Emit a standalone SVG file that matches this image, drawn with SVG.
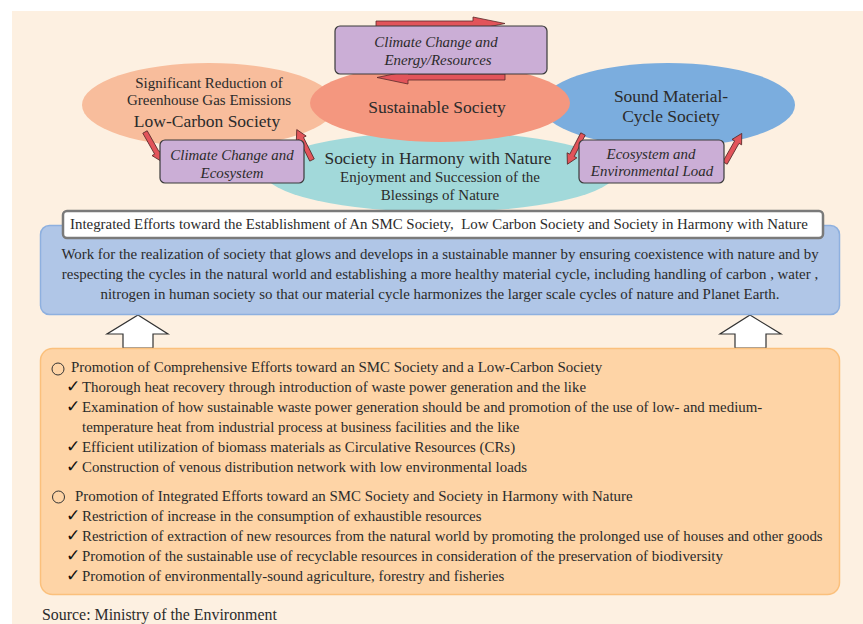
<svg xmlns="http://www.w3.org/2000/svg" width="863" height="624" viewBox="0 0 863 624">
<defs>
<style>
text{font-family:"Liberation Serif","Times New Roman",serif;fill:#2b2b2b}
.e15{font-size:15px}
.e17{font-size:17.5px}
.it{font-style:italic;font-size:14.9px;text-anchor:middle}
.c{text-anchor:middle}
.b{font-size:14.9px}
.chk{font-family:"DejaVu Sans",sans-serif;font-size:17px;fill:#111}
.pbox{fill:#cbaed6;stroke:#3a3a3a;stroke-width:1.2}
.red{fill:#e2545a;stroke:#5a2a2a;stroke-width:0.8}
.up{fill:#ffffff;stroke:#333;stroke-width:1.2}
</style>
<path id="sa" d="M0,-2.5 L24,-2.5 L24,-5.5 L34,0 L24,5.5 L24,2.5 L0,2.5 Z"/>
</defs>
<rect x="12" y="11" width="851" height="613" fill="#fdf0e1"/>

<g id="low-carbon">
<ellipse cx="209" cy="105" rx="127" ry="42" fill="#f8bd9c"/>
<text class="e15 c" x="209" y="88">Significant Reduction of</text>
<text class="e15 c" x="209" y="105">Greenhouse Gas Emissions</text>
<text class="e17 c" x="207" y="127">Low-Carbon Society</text>
</g>
<g id="smc">
<ellipse cx="668" cy="105" rx="127" ry="42" fill="#7badde"/>
<text class="e17 c" x="671" y="102">Sound Material-</text>
<text class="e17 c" x="671" y="122">Cycle Society</text>
</g>
<g id="harmony">
<ellipse cx="440" cy="172" rx="176" ry="40" fill="#a2d9da"/>
<text class="c" style="font-size:17.4px" x="438" y="164">Society in Harmony with Nature</text>
<text class="e15 c" x="440" y="182">Enjoyment and Succession of the</text>
<text class="e15 c" x="440" y="200">Blessings of Nature</text>
</g>
<g id="sustainable">
<ellipse cx="440" cy="103" rx="130" ry="39" fill="#f4977f"/>
<text class="e17 c" x="437" y="113">Sustainable Society</text>
</g>

<g id="connectors">
<path class="red" d="M376,21 L473,21 L473,17 L505,23.5 L473,30 L473,27 L376,27 Z"/>
<path class="red" d="M505,74 L408,74 L408,71 L377,77.5 L408,84 L408,80 L505,80 Z"/>
<use href="#sa" class="red" transform="translate(145,132) rotate(60.5)"/>
<use href="#sa" class="red" transform="translate(312,160) rotate(-116.6)"/>
<use href="#sa" class="red" transform="translate(583,134) rotate(117.3)"/>
<use href="#sa" class="red" transform="translate(725,163) rotate(-60.5)"/>
<path class="up" d="M138,315 L168,334 L153,334 L153,348 L123,348 L123,334 L107,334 Z"/>
<path class="up" d="M750,315 L781,334 L766,334 L766,348 L735,348 L735,334 L720,334 Z"/>
</g>

<g id="energy">
<rect class="pbox" x="335" y="26" width="212" height="48" rx="5"/>
<text class="it" x="436" y="47">Climate Change and</text>
<text class="it" x="438" y="65">Energy/Resources</text>
</g>
<g id="ecosystem">
<rect class="pbox" x="160" y="140" width="144" height="43" rx="5"/>
<text class="it" x="232" y="160">Climate Change and</text>
<text class="it" x="232" y="178">Ecosystem</text>
</g>
<g id="envload">
<rect class="pbox" x="579" y="140" width="145" height="43" rx="5"/>
<text class="it" x="651" y="159">Ecosystem and</text>
<text class="it" x="652" y="176">Environmental Load</text>
</g>

<g id="vision">
<rect x="40.5" y="225.5" width="799" height="89" rx="9" fill="#b0c6e7" stroke="#8eb0df" stroke-width="1.5"/>
<text class="b c" x="440" y="259">Work for the realization of society that glows and develops in a sustainable manner by ensuring coexistence with nature and by</text>
<text class="b c" x="440" y="279">respecting the cycles in the natural world and establishing a more healthy material cycle, including handling of carbon , water ,</text>
<text class="b c" x="440" y="299">nitrogen in human society so that our material cycle harmonizes the larger scale cycles of nature and Planet Earth.</text>
</g>
<g id="title">
<rect x="63" y="211" width="760" height="27" rx="4" fill="#ffffff" stroke="#7a7a7a" stroke-width="2.5"/>
<text class="b" x="70" y="229" xml:space="preserve">Integrated Efforts toward the Establishment of An SMC Society,  Low Carbon Society and Society in Harmony with Nature</text>
</g>

<g id="measures">
<rect x="40.5" y="348.5" width="799" height="246" rx="12" fill="#fed4a6" stroke="#fbc07c" stroke-width="1.5"/>
<circle cx="58" cy="369" r="6" fill="none" stroke="#333" stroke-width="1"/>
<text class="b" x="71" y="372">Promotion of Comprehensive Efforts toward an SMC Society and a Low-Carbon Society</text>
<text class="chk" x="66" y="392">✓</text><text class="b" x="82" y="392">Thorough heat recovery through introduction of waste power generation and the like</text>
<text class="chk" x="66" y="412">✓</text><text class="b" x="82" y="412">Examination of how sustainable waste power generation should be and promotion of the use of low- and medium-</text>
<text class="b" x="82" y="432">temperature heat from industrial process at business facilities and the like</text>
<text class="chk" x="66" y="452">✓</text><text class="b" x="82" y="452">Efficient utilization of biomass materials as Circulative Resources (CRs)</text>
<text class="chk" x="66" y="472">✓</text><text class="b" x="82" y="472">Construction of venous distribution network with low environmental loads</text>
<circle cx="58.5" cy="497" r="6" fill="none" stroke="#333" stroke-width="1"/>
<text class="b" x="75" y="501">Promotion of Integrated Efforts toward an SMC Society and Society in Harmony with Nature</text>
<text class="chk" x="66" y="521">✓</text><text class="b" x="82" y="521">Restriction of increase in the consumption of exhaustible resources</text>
<text class="chk" x="66" y="541">✓</text><text class="b" x="82" y="541">Restriction of extraction of new resources from the natural world by promoting the prolonged use of houses and other goods</text>
<text class="chk" x="66" y="561">✓</text><text class="b" x="82" y="561">Promotion of the sustainable use of recyclable resources in consideration of the preservation of biodiversity</text>
<text class="chk" x="66" y="581">✓</text><text class="b" x="82" y="581">Promotion of environmentally-sound agriculture, forestry and fisheries</text>
</g>
<text x="42" y="620" style="font-size:15.9px">Source: Ministry of the Environment</text>
</svg>
